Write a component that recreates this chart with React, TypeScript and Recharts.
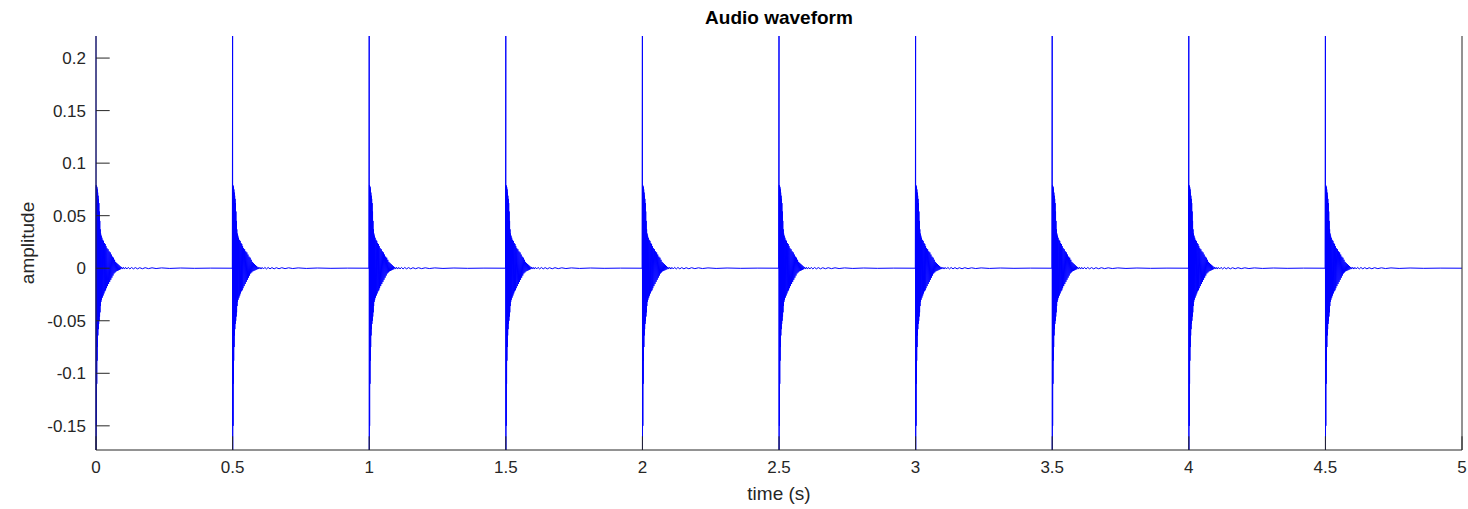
import { Label, Line, LineChart, XAxis, YAxis } from "recharts";

// click onsets (s) and the shape of one click
const CLICK_ONSETS = [0, 0.5, 1, 1.5, 2, 2.5, 3, 3.5, 4, 4.5];

// [offset in ms after onset, amplitude]
const CLICK_SHAPE: [number, number][] = [
  [0, 0.221], [0.4, -0.173], [1, 0.079], [1.6, -0.15], [2.2, 0.078],
  [2.8, -0.11], [3.4, 0.077], [4, -0.088], [4.7, 0.075], [5.4, -0.075],
  [6.1, 0.072], [6.8, -0.064], [7.5, 0.069], [8.2, -0.058], [9, 0.066],
  [9.8, -0.053], [10.6, 0.062], [11.4, -0.05], [12.2, 0.054], [13, -0.046],
  [13.8, 0.045], [14.6, -0.042], [15.4, 0.037], [16.2, -0.036], [17, 0.033],
  [18, -0.032], [19, 0.031], [20, -0.03], [21.5, 0.029], [23, -0.028],
  [24.5, 0.027], [26, -0.026], [27.5, 0.026], [29, -0.024], [30.5, 0.024],
  [32, -0.022], [33.5, 0.023], [35, -0.021], [36.5, 0.021], [38, -0.019],
  [40, 0.019], [42, -0.017], [44, 0.018], [46, -0.015], [48, 0.016],
  [50, -0.013], [52, 0.015], [54, -0.011], [56, 0.013], [58, -0.009],
  [60, 0.011], [62, -0.007], [64, 0.01], [66, -0.005], [68, 0.008],
  [70, -0.004], [72, 0.006], [74, -0.003], [76, 0.005], [78, -0.0025],
  [80, 0.004], [82, -0.002], [84, 0.003], [86, -0.0015], [88, 0.002],
  [90, -0.001], [93, 0.0012], [96, -0.0008], [100, 0.0009], [104, -0.0008],
  [108, 0.0008], [113, -0.0007], [118, 0.0008], [124, -0.0007], [130, 0.0007],
  [137, -0.0006], [144, 0.0006], [152, -0.0006], [160, 0.0005], [170, -0.0005],
  [180, 0.0005], [192, -0.0004], [205, 0.0004], [220, -0.0003], [240, 0.0003],
  [270, -0.0002], [310, 0.0002], [360, -0.0001], [420, 0.0001], [499, 0],
];

const TIME_TICKS = [0, 0.5, 1, 1.5, 2, 2.5, 3, 3.5, 4, 4.5, 5];
const AMP_TICKS = [-0.15, -0.1, -0.05, 0, 0.05, 0.1, 0.15, 0.2];
const TIME_DOMAIN = [0, 5];
const AMP_DOMAIN = [-0.173, 0.221];

const data = CLICK_ONSETS.flatMap((onset) =>
  CLICK_SHAPE.map(([ms, amp]) => ({ t: onset + ms / 1000, amp })),
).concat([{ t: 5, amp: 0 }]);

const FONT = '"Liberation Sans", Arial, Helvetica, sans-serif';
const INK = "#262626";
const TICK_LEN = 13.7;

const LeftTick = ({ x, y, payload }: any) => (
  <g>
    <line x1={x} x2={x + TICK_LEN} y1={y} y2={y} stroke={INK} />
    <text x={x - 10} y={y} dy="0.36em" textAnchor="end" fontSize={17} fill={INK} fontFamily={FONT}>
      {String(payload.value)}
    </text>
  </g>
);

const RightTick = ({ x, y }: any) => (
  <line x1={x} x2={x - TICK_LEN} y1={y} y2={y} stroke={INK} />
);

const BottomTick = ({ x, y, payload }: any) => (
  <g>
    <line x1={x} x2={x} y1={y} y2={y - TICK_LEN} stroke={INK} />
    <text x={x} y={y + 23} textAnchor="middle" fontSize={17} fill={INK} fontFamily={FONT}>
      {String(payload.value)}
    </text>
  </g>
);

const TopTick = ({ x, y }: any) => (
  <line x1={x} x2={x} y1={y} y2={y + TICK_LEN} stroke={INK} />
);

export default function App() {
  return (
    <div style={{ position: "relative", width: 1468, height: 509, background: "#fff" }}>
      <style>{"body{margin:0}"}</style>
      <div
        style={{
          position: "absolute",
          left: 96,
          width: 1366,
          top: 7,
          lineHeight: "22px",
          textAlign: "center",
          fontFamily: FONT,
          fontWeight: "bold",
          fontSize: 19,
          color: "#000",
        }}
      >
        Audio waveform
      </div>
      <LineChart
        width={1468}
        height={509}
        data={data}
        margin={{ top: 36, right: 0, bottom: 0, left: 0 }}
      >
        <XAxis
          dataKey="t"
          type="number"
          domain={TIME_DOMAIN}
          ticks={TIME_TICKS}
          interval={0}
          height={59}
          tickSize={0}
          tickMargin={0}
          tickLine={false}
          tick={<BottomTick />}
          axisLine={{ stroke: INK }}
        >
          <Label
            content={({ viewBox }: any) => (
              <text
                x={viewBox.x + viewBox.width / 2}
                y={viewBox.y + 50}
                textAnchor="middle"
                fontSize={19}
                fill={INK}
                fontFamily={FONT}
              >
                time (s)
              </text>
            )}
          />
        </XAxis>
        <XAxis
          xAxisId="top"
          orientation="top"
          type="number"
          domain={TIME_DOMAIN}
          ticks={TIME_TICKS}
          interval={0}
          height={0}
          tickSize={0}
          tickMargin={0}
          tickLine={false}
          tick={<TopTick />}
          axisLine={{ stroke: INK }}
        />
        <YAxis
          type="number"
          domain={AMP_DOMAIN}
          ticks={AMP_TICKS}
          interval={0}
          width={96}
          tickSize={0}
          tickMargin={0}
          tickLine={false}
          tick={<LeftTick />}
          axisLine={{ stroke: INK }}
        >
          <Label
            content={({ viewBox }: any) => {
              const cx = viewBox.x + 27;
              const cy = viewBox.y + viewBox.height / 2;
              return (
                <text
                  x={cx}
                  y={cy}
                  dy="0.35em"
                  transform={`rotate(-90, ${cx}, ${cy})`}
                  textAnchor="middle"
                  fontSize={19}
                  fill={INK}
                  fontFamily={FONT}
                >
                  amplitude
                </text>
              );
            }}
          />
        </YAxis>
        <YAxis
          yAxisId="right"
          orientation="right"
          type="number"
          domain={AMP_DOMAIN}
          ticks={AMP_TICKS}
          interval={0}
          width={6}
          tickSize={0}
          tickMargin={0}
          tickLine={false}
          tick={<RightTick />}
          axisLine={{ stroke: INK }}
        />
        <Line
          type="linear"
          dataKey="amp"
          stroke="#0000ff"
          strokeWidth={1}
          dot={false}
          isAnimationActive={false}
        />
      </LineChart>
    </div>
  );
}
